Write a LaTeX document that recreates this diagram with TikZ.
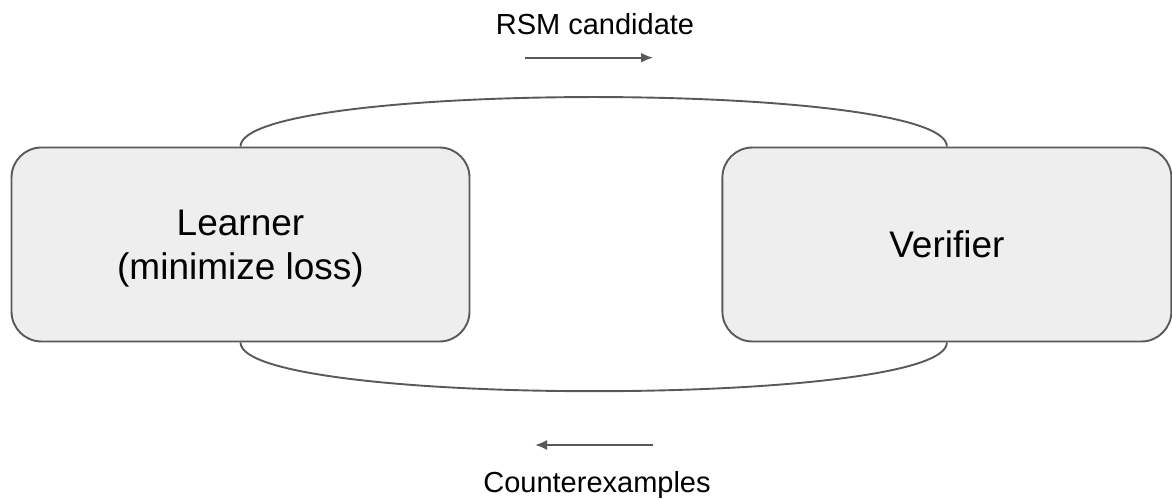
\documentclass[tikz,border=0pt]{standalone}
\usepackage{fontspec}
\setmainfont{Liberation Sans}
\usetikzlibrary{positioning,arrows.meta}
\definecolor{boxgray}{HTML}{EEEEEE}
\definecolor{linegray}{HTML}{595959}

\begin{document}
\begin{tikzpicture}[x=1pt,y=1pt,
      box/.style={draw=linegray,fill=boxgray,line width=1.9pt,rounded corners=30pt,minimum width=458pt,minimum height=194pt,align=center,font=\fontsize{37}{44}\selectfont},
      lbl/.style={font=\fontsize{29}{35}\selectfont},
      loop/.style={draw=linegray,line width=1.9pt},
      flow/.style={draw=linegray,line width=1.9pt,-{Latex[length=12pt,width=10pt]}}]
    \useasboundingbox (0,0) rectangle (1172,498);
    \node[box,text depth=0pt] (learner) at (240.5,253.5) {Learner\\(minimize loss)};
    \node[box,minimum width=449pt,right=251pt of learner] (verifier) {Verifier};
    % the two bows between the boxes
    \draw[loop] (learner.north) .. controls +(0,66) and +(0,66) .. (verifier.north);
    \draw[loop] (learner.south) .. controls +(0,-65) and +(0,-65) .. (verifier.south);
    % labels with their arrows
    \node[lbl,anchor=base] (rsm) at (595,463.5) {RSM candidate};
    \coordinate (rsm-from) at (525,440.3);
    \coordinate (rsm-to) at (653,440.3);
    \draw[flow] (rsm-from) -- (rsm-to);
    \node[lbl,anchor=base] (cex) at (597,5.5) {Counterexamples};
    \coordinate (cex-from) at (653,53);
    \coordinate (cex-to) at (535,53);
    \draw[flow] (cex-from) -- (cex-to);
  \end{tikzpicture}
\end{document}
